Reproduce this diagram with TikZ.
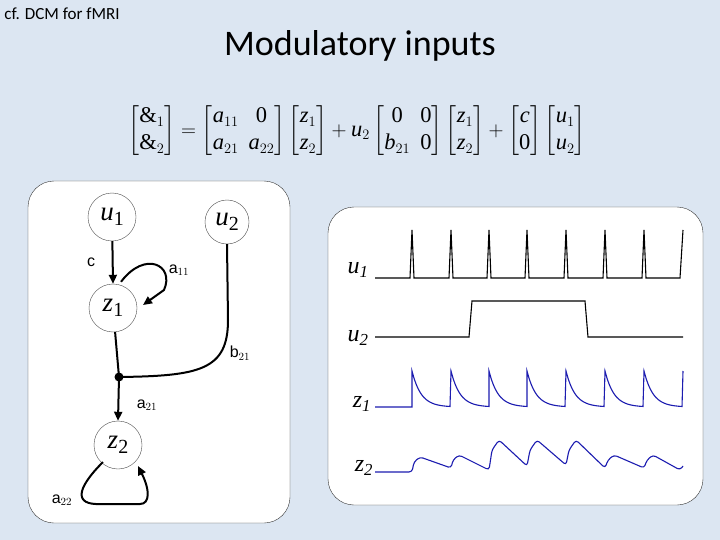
\documentclass[tikz,border=0pt]{standalone}
\usepackage{fontspec}
\usepackage{amsmath}
\setmainfont{Liberation Serif}
\newfontfamily\carl{Carlito}
\newfontfamily\arl{Liberation Sans}
\usetikzlibrary{arrows.meta}
\definecolor{bg}{HTML}{DCE6F2}
\definecolor{trace}{HTML}{1C1CB0}
\newcommand\iv[1]{\text{\itshape #1}}
\newcommand\nsub[2]{{\itshape #1}\raisebox{-5pt}{\fontsize{20}{20}\selectfont\upshape #2}}
\begin{document}
\begin{tikzpicture}[x=1pt,y=-1pt,
  st/.style={draw=black!70,circle,minimum size=48pt,inner sep=0pt,font=\fontsize{27}{27}\selectfont, fill=white},
  conn/.style={line width=2pt,-{Triangle[length=9pt,width=8pt]}},
  lab/.style={font=\arl\fontsize{16}{16}\selectfont},
  tl/.style={font=\fontsize{24}{24}\selectfont\itshape}]
\fill[bg] (0,0) rectangle (720,540);
\useasboundingbox (0,0) rectangle (720,540);
\node[font=\carl\fontsize{17}{17}\selectfont] (cf) at (62,14) {cf. DCM for fMRI};
\node[font=\carl\fontsize{36}{36}\selectfont] (title) at (360,46) {Modulatory inputs};
\node[font=\fontsize{22.5}{27}\selectfont] (eq) at (357,131) {$\begin{bmatrix}\&_1\\ \&_2\end{bmatrix}=\begin{bmatrix}\iv{a}_{11} & \text{0}\\ \iv{a}_{21} & \iv{a}_{22}\end{bmatrix}\begin{bmatrix}\iv{z}_1\\ \iv{z}_2\end{bmatrix}+\iv{u}_2\begin{bmatrix}\text{0} & \text{0}\\ \iv{b}_{21} & \text{0}\end{bmatrix}\begin{bmatrix}\iv{z}_1\\ \iv{z}_2\end{bmatrix}+\begin{bmatrix}\iv{c}\\ \text{0}\end{bmatrix}\begin{bmatrix}\iv{u}_1\\ \iv{u}_2\end{bmatrix}$};
% left box
\draw[draw=black!80,fill=white,rounded corners=26pt] (28,181) rectangle (290,523);
\node[st] (u1) at (112,217) {\nsub{u}{1}};
\node[st,minimum size=44pt] (u2) at (227,222) {\nsub{u}{2}};
\node[st] (z1) at (113,308) {\nsub{z}{1}};
\node[st] (z2) at (118,445) {\nsub{z}{2}};
\fill (119,377) circle (4.5pt) coordinate (j);
\draw[conn] (u1) -- (z1.north);
\draw[line width=2pt] (z1) -- (j);
\draw[conn] (j) -- (z2.north);
\draw[line width=2pt] (u2.south) -- (228,320) .. controls (228,370) and (200,376) .. (j);
\draw[conn] (z1.north) ++(8,-2) coordinate (a1) (a1) .. controls (145,250) and (175,265) .. (164,290) -- (143,305);
\draw[conn] (z2.south west) ++(2,0) coordinate (a2) (a2) .. controls (75,490) and (75,505) .. (100,504) -- (140,504) .. controls (150,504) and (150,490) .. (138,466);
\node[lab] (lc) at (91,262) {c};
\node[lab] (la11) at (179,270) {a$_{11}$};
\node[lab] (lb21) at (240,353) {b$_{21}$};
\node[lab] (la21) at (147,405) {a$_{21}$};
\node[lab] (la22) at (62,500) {a$_{22}$};
% right box
\draw[draw=black!80,fill=white,rounded corners=26pt] (328,207) rectangle (703,505);
\node[tl] (t1) at (358,270) {u\/$_{\mathit{1}}$};
\node[tl] (t2) at (358,338) {u\/$_{\mathit{2}}$};
\node[tl] (t3) at (362,404) {z\/$_{\mathit{1}}$};
\node[tl] (t4) at (364,468) {z\/$_{\mathit{2}}$};
\draw[line width=1.1pt] (375,278) \foreach \s in {410,449,487,525,564,603,642} {-- (\s,278) -- (\s+2,230) -- (\s+4,278)} -- (680,278) -- (683,230);
\draw[line width=1.1pt] (375,337) -- (469,337) -- (472,301) -- (585,301) -- (588,337) -- (683,337);
\draw[trace,line width=1.1pt] (375,407) -- (412,407)
  \foreach \s in {412,451,489,527,566,605,644} {-- (\s,371) -- plot[domain=0:38,samples=20,variable=\t] ({\s+\t},{407-36*exp(-\t/9)})} -- (682,407) -- (683,371);
\draw[trace,line width=1.1pt,rounded corners=3pt] (375,472) -- (412,472) -- (414,462) -- (420,457) -- (451,468) -- (453,460) -- (459,455) -- (489,470) -- (492,450) -- (499,440) -- (527,466) -- (530,450) -- (537,440) -- (566,465) -- (569,450) -- (576,440) -- (605,468) -- (608,460) -- (614,455) -- (644,468) -- (647,460) -- (653,455) -- (680,470) -- (683,466);
\end{tikzpicture}
\end{document}
